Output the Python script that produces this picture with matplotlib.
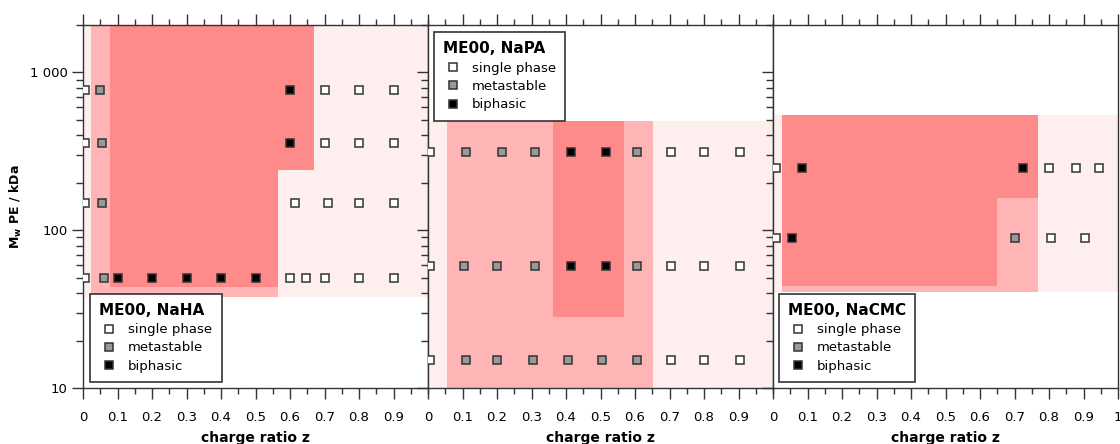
import matplotlib.pyplot as plt
from matplotlib.lines import Line2D
from matplotlib.patches import Rectangle
from matplotlib.ticker import FixedLocator, MultipleLocator, LogLocator, NullFormatter, FuncFormatter

# phase states: 0 = single phase, 1 = metastable, 2 = biphasic
naha_z = [0.005, 0.05, 0.6, 0.7, 0.8, 0.9,
          0.005, 0.055, 0.6, 0.7, 0.8, 0.9,
          0.005, 0.055, 0.615, 0.71, 0.8, 0.9,
          0.005, 0.06, 0.1, 0.2, 0.3, 0.4, 0.5, 0.6, 0.645, 0.7, 0.8, 0.9]
naha_mw = [780] * 6 + [355] * 6 + [148] * 6 + [50] * 12
naha_state = [0, 1, 2, 0, 0, 0,
              0, 1, 2, 0, 0, 0,
              0, 1, 0, 0, 0, 0,
              0, 1, 2, 2, 2, 2, 2, 0, 0, 0, 0, 0]

napa_z = [0.005, 0.11, 0.215, 0.31, 0.415, 0.515, 0.605, 0.705, 0.8, 0.905,
          0.005, 0.105, 0.2, 0.31, 0.415, 0.515, 0.605, 0.705, 0.8, 0.905,
          0.005, 0.11, 0.2, 0.305, 0.405, 0.505, 0.605, 0.705, 0.8, 0.905]
napa_mw = [312] * 10 + [59] * 10 + [15] * 10
napa_state = [0, 1, 1, 1, 2, 2, 1, 0, 0, 0,
              0, 1, 1, 1, 2, 2, 1, 0, 0, 0,
              0, 1, 1, 1, 1, 1, 1, 0, 0, 0]

nacmc_z = [0.008, 0.084, 0.725, 0.8, 0.877, 0.945,
           0.008, 0.055, 0.7, 0.806, 0.905]
nacmc_mw = [247] * 6 + [89] * 5
nacmc_state = [0, 2, 2, 0, 0, 0,
               0, 2, 1, 0, 0]

# shaded regions: (z from, z to, Mw from, Mw to, shade level)
naha_regions = [(0, 1, 38, 2000, 0), (0.022, 0.565, 38, 2000, 1),
                (0.078, 0.565, 43.5, 2000, 2), (0.565, 0.67, 240, 2000, 2)]
napa_regions = [(0, 1, 10, 490, 0), (0.055, 0.652, 10, 490, 1),
                (0.363, 0.567, 28, 490, 2)]
nacmc_regions = [(0, 1, 40.5, 535, 0), (0.026, 0.768, 40.5, 535, 1),
                 (0.026, 0.65, 44, 535, 2), (0.65, 0.768, 159, 535, 2)]

titles = ['ME00, NaHA', 'ME00, NaPA', 'ME00, NaCMC']
state_labels = ['single phase', 'metastable', 'biphasic']
state_colors = ['white', '#999999', 'black']
shade_colors = ['#ffeeee', '#ffb5b5', '#ff8a8a']

panels = [(naha_z, naha_mw, naha_state, naha_regions),
          (napa_z, napa_mw, napa_state, napa_regions),
          (nacmc_z, nacmc_mw, nacmc_state, nacmc_regions)]
legend_pos = [('lower left', (0.02, 0.0165)),
              ('upper left', (0.017, 0.98)),
              ('lower left', (0.017, 0.0165))]

edge = '#333333'
fig = plt.figure(figsize=(11.2, 4.44), dpi=100)
width = 345 / 1120
lefts = [83 / 1120, 428 / 1120, 773 / 1120]

for i, (z, mw, state, regions) in enumerate(panels):
    ax = fig.add_axes([lefts[i], 1 - 388 / 444, width, 363 / 444])
    ax.set_yscale('log')
    ax.set_xlim(0, 1)
    ax.set_ylim(10, 2000)

    for z0, z1, m0, m1, lvl in regions:
        ax.add_patch(Rectangle((z0, m0), z1 - z0, m1 - m0, facecolor=shade_colors[lvl],
                               edgecolor='none', zorder=1))

    for s in range(3):
        zs = [a for a, b in zip(z, state) if b == s]
        ms = [a for a, b in zip(mw, state) if b == s]
        ax.plot(zs, ms, 's', ms=6, mfc=state_colors[s], mec=edge, mew=1.1, zorder=3)

    for sp in ax.spines.values():
        sp.set_color(edge)
        sp.set_linewidth(1.0)

    # x ticks on top and bottom, outward
    majors = [k / 10 for k in range(11 if i == 2 else 10)]
    ax.xaxis.set_major_locator(FixedLocator(majors))
    ax.xaxis.set_minor_locator(MultipleLocator(0.05))
    ax.xaxis.set_major_formatter(FuncFormatter(lambda v, p: '0' if v == 0 else ('1' if v == 1 else f'{v:.1f}')))
    ax.tick_params(axis='x', which='both', top=True, bottom=True, direction='out',
                   color=edge, width=1.0, labelsize=9.5, pad=8.5)
    ax.tick_params(axis='x', which='major', length=8)
    ax.tick_params(axis='x', which='minor', length=4)

    ax.yaxis.set_major_locator(LogLocator(base=10))
    ax.yaxis.set_minor_locator(LogLocator(base=10, subs=range(2, 10)))
    ax.yaxis.set_minor_formatter(NullFormatter())
    ax.tick_params(axis='y', which='both', left=True, right=False, direction='out',
                   color=edge, width=1.0, labelsize=9.5, pad=3)
    ax.tick_params(axis='y', which='major', length=8)
    ax.tick_params(axis='y', which='minor', length=5)
    if i == 0:
        ax.yaxis.set_major_formatter(FuncFormatter(lambda v, p: {10: '10', 100: '100', 1000: '1 000'}.get(round(v), '')))
        ax.set_ylabel(r'M$_\mathbf{w}$ PE / kDa', fontsize=9, fontweight='bold', labelpad=4)
    else:
        ax.yaxis.set_major_formatter(NullFormatter())

    ax.set_xlabel('charge ratio z', fontsize=10, fontweight='bold', labelpad=5)

    handles = [Line2D([], [], ls='none', marker='s', ms=6, mfc=c, mec=edge, mew=1.1)
               for c in state_colors]
    loc, anchor = legend_pos[i]
    leg = ax.legend(handles, state_labels, title=titles[i], loc=loc, bbox_to_anchor=anchor,
                    borderaxespad=0, fontsize=9.5, title_fontproperties={'weight': 'bold', 'size': 11},
                    alignment='left', fancybox=False, framealpha=1, edgecolor=edge,
                    handlelength=1.5, handletextpad=0.7, labelspacing=0.4, borderpad=0.7)
    leg.get_frame().set_linewidth(1.2)
    leg.set_zorder(5)

fig.savefig('out.png', dpi=100)
